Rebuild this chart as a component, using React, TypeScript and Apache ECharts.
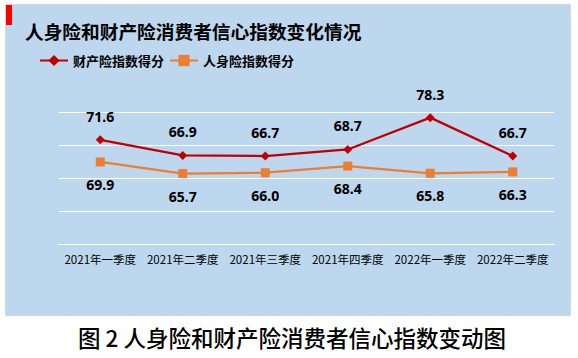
import React, { useEffect, useRef } from "react";
import * as echarts from "echarts";

const categories = ["2021年一季度", "2021年二季度", "2021年三季度", "2021年四季度", "2022年一季度", "2022年二季度"];
const propertyScores = [71.6, 66.9, 66.7, 68.7, 78.3, 66.7];
const lifeScores = [69.9, 65.7, 66.0, 68.4, 65.8, 66.3];
const seriesNames = ["财产险指数得分", "人身险指数得分"];
const chartTitle = "人身险和财产险消费者信心指数变化情况";
const caption = "图 2 人身险和财产险消费者信心指数变动图";

const CJK = '"Noto Sans CJK SC", "Noto Sans", sans-serif';

export default function App() {
  const ref = useRef<HTMLDivElement>(null);
  useEffect(() => {
    if (!ref.current) return;
    const chart = echarts.init(ref.current, undefined, { renderer: "svg" });
    chart.setOption({
      animation: false,
      backgroundColor: "#ffffff",
      graphic: [
        {
          type: "rect",
          z: -10,
          shape: { x: 5.5, y: 4.5, width: 565, height: 311 },
          style: { fill: "#BDD7EE", stroke: "#D6D6D6", lineWidth: 1 },
        },
        {
          type: "rect",
          z: -9,
          shape: { x: 6, y: 5, width: 6, height: 20 },
          style: { fill: "#FF0000" },
        },
        {
          type: "text",
          x: 25,
          y: 30,
          style: {
            text: chartTitle,
            font: `bold 18.7px ${CJK}`,
            fill: "#000000",
            verticalAlign: "middle",
          },
        },
        {
          type: "text",
          x: 292,
          y: 337,
          style: {
            text: caption,
            font: `500 22.5px ${CJK}`,
            fill: "#000000",
            align: "center",
            verticalAlign: "middle",
          },
        },
      ],
      legend: {
        left: 34,
        top: 49,
        itemWidth: 28,
        itemHeight: 14,
        itemGap: 5,
        textStyle: { fontFamily: CJK, fontSize: 13, fontWeight: "bold", color: "#000" },
        data: seriesNames,
      },
      grid: { left: 59, right: 24, top: 112, bottom: 113.5 },
      xAxis: {
        type: "category",
        data: categories,
        boundaryGap: true,
        axisLine: { show: true, lineStyle: { color: "#FFFFFF", width: 1 } },
        axisTick: { show: false },
        axisLabel: { color: "#000", fontFamily: CJK, fontSize: 11.5, margin: 9, interval: 0 },
      },
      yAxis: [
        {
          type: "value",
          min: 40,
          max: 80,
          interval: 10,
          axisLabel: { show: false },
          axisLine: { show: false },
          axisTick: { show: false },
          splitLine: { show: true, lineStyle: { color: "#FFFFFF", width: 1 } },
        },
        {
          type: "value",
          min: 40,
          max: 88,
          show: false,
          splitLine: { show: false },
        },
      ],
      series: [
        {
          name: seriesNames[0],
          type: "line",
          yAxisIndex: 0,
          data: propertyScores,
          symbol: "diamond",
          symbolSize: 9,
          itemStyle: { color: "#C00000" },
          lineStyle: { color: "#C00000", width: 2.25 },
          label: {
            show: true,
            position: "top",
            distance: 12,
            color: "#000",
            fontFamily: '"Noto Sans", sans-serif',
            fontSize: 14,
            fontWeight: "bold",
            formatter: (p: any) => p.value.toFixed(1),
          },
        },
        {
          name: seriesNames[1],
          type: "line",
          yAxisIndex: 1,
          data: lifeScores,
          symbol: "rect",
          symbolSize: 9,
          itemStyle: { color: "#ED7D31" },
          lineStyle: { color: "#ED7D31", width: 2.25 },
          label: {
            show: true,
            position: "bottom",
            distance: 11,
            color: "#000",
            fontFamily: '"Noto Sans", sans-serif',
            fontSize: 14,
            fontWeight: "bold",
            formatter: (p: any) => p.value.toFixed(1),
          },
        },
      ],
    });
    return () => chart.dispose();
  }, []);
  return (
    <div
      ref={ref}
      style={{ position: "fixed", left: 0, top: 0, width: 578, height: 358 }}
    />
  );
}
